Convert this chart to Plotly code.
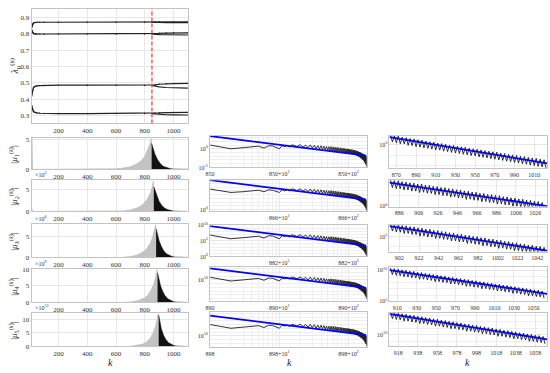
import plotly.graph_objects as go

W, H = 550, 373
OFF = 0
FONT = "Liberation Serif"

# ---------------- top panel data ----------------
lam_k = [14, 17, 20, 25, 30, 40, 50, 70, 100, 200, 400, 600, 800, 850, 870, 900, 950, 1000, 1100]
lam_1 = [0.84, 0.852, 0.86, 0.866, 0.869, 0.871, 0.872, 0.872, 0.872, 0.872, 0.872, 0.872, 0.872, 0.872, 0.873, 0.874, 0.874, 0.874, 0.874]
lam_2 = [0.825, 0.815, 0.81, 0.805, 0.802, 0.80, 0.80, 0.80, 0.80, 0.80, 0.80, 0.80, 0.80, 0.80, 0.802, 0.804, 0.806, 0.807, 0.807]
lam_3 = [0.42, 0.44, 0.455, 0.468, 0.475, 0.48, 0.482, 0.484, 0.485, 0.486, 0.486, 0.486, 0.485, 0.485, 0.488, 0.492, 0.495, 0.496, 0.497]
lam_4 = [0.36, 0.345, 0.335, 0.327, 0.322, 0.318, 0.316, 0.314, 0.313, 0.312, 0.312, 0.312, 0.312, 0.312, 0.314, 0.316, 0.318, 0.319, 0.319]
split_k = [850, 870, 900, 950, 1000, 1100]
lam_1b = [0.872, 0.871, 0.870, 0.870, 0.870, 0.870]
lam_2b = [0.80, 0.798, 0.796, 0.795, 0.794, 0.794]
lam_3b = [0.485, 0.481, 0.476, 0.472, 0.470, 0.468]
lam_4b = [0.312, 0.310, 0.307, 0.305, 0.304, 0.303]
red_k = 850

# ---------------- left column data (|mu_i|) ----------------
g1_k = [14, 15, 17, 19, 22, 500, 550, 600, 650, 700, 750, 780, 800, 820, 835, 845, 848, 856]
g1_v = [0, 5.3, 3.0, 0.6, 0, 0.02, 0.05, 0.1, 0.22, 0.45, 1.0, 1.6, 2.2, 3.2, 4.2, 5.2, 3.8, 0]
b1_k = [848, 855, 870, 890, 910, 930, 950, 980, 1000, 1050, 1100]
b1_v = [4.4, 3.8, 2.6, 1.6, 0.9, 0.5, 0.3, 0.1, 0.05, 0.01, 0]
g2_k = [14, 15, 17, 20, 600, 650, 700, 750, 780, 800, 820, 840, 852, 860, 863, 870]
g2_v = [0, 0.6, 0.3, 0, 0.05, 0.12, 0.35, 0.85, 1.4, 2.0, 2.9, 4.2, 5.6, 6.8, 4.5, 0]
b2_k = [863, 870, 885, 900, 920, 940, 960, 980, 1000, 1050, 1100]
b2_v = [5.5, 4.8, 3.3, 2.2, 1.3, 0.7, 0.4, 0.2, 0.08, 0.02, 0]
g3_k = [650, 700, 750, 780, 800, 820, 840, 855, 868, 876, 879, 885]
g3_v = [0.05, 0.2, 0.6, 1.1, 1.6, 2.5, 3.6, 5.0, 6.5, 8.0, 5.0, 0]
b3_k = [879, 885, 900, 915, 930, 950, 970, 990, 1010, 1050, 1100]
b3_v = [7.0, 6.0, 4.0, 2.7, 1.7, 0.9, 0.45, 0.2, 0.08, 0.02, 0]
g4_k = [650, 700, 750, 780, 800, 820, 840, 860, 875, 886, 889, 895]
g4_v = [0.03, 0.15, 0.5, 0.9, 1.4, 2.2, 3.4, 5.3, 7.5, 10.0, 6.0, 0]
b4_k = [889, 895, 910, 925, 940, 960, 980, 1000, 1020, 1060, 1100]
b4_v = [9.0, 7.5, 5.0, 3.3, 2.1, 1.1, 0.55, 0.25, 0.1, 0.02, 0]
g5_k = [700, 750, 780, 800, 820, 840, 860, 875, 887, 894, 897, 903]
g5_v = [0.1, 0.4, 0.8, 1.2, 2.0, 3.2, 5.2, 7.4, 10.0, 12.0, 7.0, 0]
b5_k = [897, 903, 915, 930, 945, 965, 985, 1005, 1025, 1060, 1100]
b5_v = [11.5, 9.5, 6.5, 4.2, 2.7, 1.4, 0.7, 0.3, 0.12, 0.03, 0]
left_ymax = [5.3, 7.0, 8.1, 10.1, 12.2]
left_exp = ["", "×10<sup>3</sup>", "×10<sup>6</sup>", "×10<sup>9</sup>", "×10<sup>12</sup>"]

# ---------------- middle column data (log10 values, offset k - start) ----------------
mid_start = [850, 866, 882, 890, 898]
mid_head_x = list(range(1, 16))
mid_peak_x = list(range(16, 181, 4))
mid_trough_x = list(range(18, 183, 4))

mh1 = [1.0, 0.0, 0.3, 0.5, 0.7, 0.2, 0.8, 0.75, 0.4, 0.0, 0.8, 0.6, 0.9, 0.5, 1.0]
mp1 = [1.0, 1.1, 1.0, 1.05, 0.95, 0.85, 0.8, 0.7, 0.6, 0.55, 0.6, 0.5, 0.45, 0.35, 0.3, 0.25, 0.15, 0.1, 0.05, 0.0,
       -0.05, -0.1, -0.15, -0.2, -0.25, -0.3, -0.35, -0.45, -0.5, -0.6, -0.7, -0.8, -0.9, -1.0, -1.1, -1.25, -1.35, -1.45, -1.55, -1.7, -1.85, -2.0]
mt1 = [0.6, 0.45, 0.3, 0.2, 0.05, -0.05, -0.15, -0.3, -0.4, -0.55, -0.7, -0.8, -0.85, -0.9, -0.95, -1.0, -1.05, -1.1, -1.15, -1.2,
       -1.25, -1.3, -1.35, -1.4, -1.45, -1.5, -1.6, -1.7, -1.8, -1.9, -2.0, -2.2, -2.3, -2.5, -2.6, -2.8, -3.0, -3.2, -3.5, -3.8, -4.2, -4.8]
mb1 = [3.4, -1.85]

mh2 = [5.5, 4.6, 4.8, 5.1, 5.2, 4.8, 5.3, 5.2, 4.9, 4.6, 5.3, 5.0, 5.4, 5.0, 5.5]
mp2 = [5.5, 5.6, 5.5, 5.55, 5.45, 5.35, 5.3, 5.2, 5.1, 5.05, 5.1, 5.0, 4.95, 4.85, 4.8, 4.75, 4.65, 4.6, 4.55, 4.5,
       4.45, 4.4, 4.35, 4.3, 4.25, 4.2, 4.15, 4.05, 4.0, 3.9, 3.8, 3.7, 3.6, 3.5, 3.4, 3.25, 3.15, 3.05, 2.95, 2.8, 2.65, 2.5]
mt2 = [5.1, 4.95, 4.8, 4.7, 4.55, 4.45, 4.35, 4.2, 4.1, 3.95, 3.8, 3.7, 3.65, 3.6, 3.55, 3.5, 3.45, 3.4, 3.35, 3.3,
       3.25, 3.2, 3.15, 3.1, 3.05, 3.0, 2.9, 2.8, 2.7, 2.6, 2.5, 2.3, 2.2, 2.0, 1.9, 1.7, 1.5, 1.3, 1.0, 0.7, 0.3, -0.3]
mb2 = [7.9, 2.65]

mh3 = [6.84, 5.65, 6.0, 6.25, 6.48, 5.89, 6.6, 6.54, 6.13, 5.65, 6.6, 6.36, 6.72, 6.25, 6.84]
mp3 = [6.84, 6.96, 6.84, 6.9, 6.78, 6.66, 6.6, 6.48, 6.36, 6.3, 6.36, 6.25, 6.19, 6.07, 6.0, 5.95, 5.83, 5.77, 5.71, 5.65,
       5.59, 5.53, 5.47, 5.41, 5.35, 5.29, 5.23, 5.11, 5.05, 4.94, 4.82, 4.7, 4.58, 4.46, 4.34, 4.16, 4.04, 3.92, 3.8, 3.63, 3.45, 3.27]
mt3 = [6.36, 6.19, 6.0, 5.89, 5.71, 5.59, 5.47, 5.29, 5.17, 4.99, 4.82, 4.7, 4.64, 4.58, 4.52, 4.46, 4.4, 4.34, 4.28, 4.22,
       4.16, 4.1, 4.04, 3.98, 3.92, 3.87, 3.75, 3.63, 3.51, 3.39, 3.27, 3.03, 2.91, 2.68, 2.56, 2.32, 2.08, 1.84, 1.49, 1.13, 0.65, -0.06]
mb3 = [9.7, 3.45]

mh4 = [10.7, 9.7, 10.0, 10.2, 10.4, 9.9, 10.5, 10.45, 10.1, 9.7, 10.5, 10.3, 10.6, 10.2, 10.7]
mp4 = [10.7, 10.8, 10.7, 10.75, 10.65, 10.55, 10.5, 10.4, 10.3, 10.25, 10.3, 10.2, 10.15, 10.05, 10.0, 9.95, 9.85, 9.8, 9.75, 9.7,
       9.65, 9.6, 9.55, 9.5, 9.45, 9.4, 9.35, 9.25, 9.2, 9.1, 9.0, 8.9, 8.8, 8.7, 8.6, 8.45, 8.35, 8.25, 8.15, 8.0, 7.85, 7.7]
mt4 = [10.3, 10.15, 10.0, 9.9, 9.75, 9.65, 9.55, 9.4, 9.3, 9.15, 9.0, 8.9, 8.85, 8.8, 8.75, 8.7, 8.65, 8.6, 8.55, 8.5,
       8.45, 8.4, 8.35, 8.3, 8.25, 8.2, 8.1, 8.0, 7.9, 7.8, 7.7, 7.5, 7.4, 7.2, 7.1, 6.9, 6.7, 6.5, 6.2, 5.9, 5.5, 4.9]
mb4 = [13.1, 7.85]

mh5 = [13.0, 12.0, 12.3, 12.5, 12.7, 12.2, 12.8, 12.75, 12.4, 12.0, 12.8, 12.6, 12.9, 12.5, 13.0]
mp5 = [13.0, 13.1, 13.0, 13.05, 12.95, 12.85, 12.8, 12.7, 12.6, 12.55, 12.6, 12.5, 12.45, 12.35, 12.3, 12.25, 12.15, 12.1, 12.05, 12.0,
       11.95, 11.9, 11.85, 11.8, 11.75, 11.7, 11.65, 11.55, 11.5, 11.4, 11.3, 11.2, 11.1, 11.0, 10.9, 10.75, 10.65, 10.55, 10.45, 10.3, 10.15, 10.0]
mt5 = [12.6, 12.45, 12.3, 12.2, 12.05, 11.95, 11.85, 11.7, 11.6, 11.45, 11.3, 11.2, 11.15, 11.1, 11.05, 11.0, 10.95, 10.9, 10.85, 10.8,
       10.75, 10.7, 10.65, 10.6, 10.55, 10.5, 10.4, 10.3, 10.2, 10.1, 10.0, 9.8, 9.7, 9.5, 9.4, 9.2, 9.0, 8.8, 8.5, 8.2, 7.8, 7.2]
mb5 = [15.4, 10.15]
mid_blue_x = [1, 180]
mid_yrange = [[-5, 3.4], [-0.5, 7.9], [0, 10], [4.2, 13.4], [6.85, 16.3]]
mid_ytick = [[-5, 0], [0], [0, 5, 10], [10], [10]]

# ---------------- right column data (log10 values) ----------------
right_start = [863, 876, 892, 902, 909]
right_end = [1023, 1038, 1052, 1064, 1070]
right_xticks_1 = [870, 890, 910, 930, 950, 970, 990, 1010]
right_xticks_2 = [886, 906, 926, 946, 966, 986, 1006, 1026]
right_xticks_3 = [902, 922, 942, 962, 982, 1002, 1022, 1042]
right_xticks_4 = [910, 930, 950, 970, 990, 1010, 1030, 1050]
right_xticks_5 = [918, 938, 958, 978, 998, 1018, 1038, 1058]

rp1 = [0.95, 0.88, 0.86, 0.75, 0.70, 0.62, 0.58, 0.50, 0.45, 0.36, 0.30, 0.25, 0.17, 0.12, 0.05, -0.02, -0.06, -0.14, -0.20, -0.25,
       -0.32, -0.38, -0.43, -0.50, -0.56, -0.62, -0.68, -0.72, -0.80, -0.85, -0.92, -0.98, -1.03, -1.10, -1.15, -1.22, -1.28, -1.32, -1.40, -1.46]
rt1 = [0.28, 0.20, 0.10, 0.08, -0.05, -0.08, -0.18, -0.22, -0.30, -0.35, -0.42, -0.50, -0.52, -0.62, -0.66, -0.74, -0.80, -0.85, -0.92, -0.98,
       -1.05, -1.08, -1.18, -1.22, -1.28, -1.35, -1.40, -1.48, -1.52, -1.60, -1.65, -1.72, -1.78, -1.85, -1.90, -1.98, -2.02, -2.10, -2.15, -2.25]
rb1 = [0.75, -1.8]
rp2 = [2.59, 2.51, 2.49, 2.40, 2.37, 2.29, 2.26, 2.17, 2.15, 2.06, 2.03, 1.95, 1.92, 1.83, 1.81, 1.72, 1.69, 1.60, 1.58, 1.49,
       1.46, 1.38, 1.35, 1.26, 1.24, 1.15, 1.12, 1.04, 1.01, 0.92, 0.90, 0.81, 0.78, 0.70, 0.67, 0.58, 0.55, 0.47, 0.44, 0.35]
rt2 = [1.81, 1.72, 1.70, 1.58, 1.58, 1.47, 1.47, 1.33, 1.36, 1.26, 1.24, 1.12, 1.13, 1.03, 1.01, 0.88, 0.90, 0.80, 0.79, 0.65,
       0.67, 0.58, 0.56, 0.42, 0.45, 0.35, 0.33, 0.20, 0.22, 0.12, 0.11, -0.03, -0.01, -0.10, -0.12, -0.26, -0.23, -0.33, -0.35, -0.50]
rb2 = [2.3, 0.0]
rp3 = [6.38, 6.30, 6.27, 6.17, 6.14, 6.05, 6.02, 5.92, 5.89, 5.80, 5.77, 5.67, 5.64, 5.55, 5.52, 5.42, 5.39, 5.30, 5.27, 5.17,
       5.14, 5.05, 5.02, 4.92, 4.89, 4.80, 4.77, 4.67, 4.64, 4.55, 4.52, 4.42, 4.39, 4.30, 4.27, 4.17, 4.14, 4.05, 4.02, 3.92]
rt3 = [5.60, 5.50, 5.48, 5.35, 5.35, 5.25, 5.23, 5.08, 5.10, 5.00, 4.98, 4.84, 4.85, 4.75, 4.73, 4.58, 4.60, 4.50, 4.48, 4.33,
       4.35, 4.25, 4.23, 4.08, 4.10, 4.00, 3.98, 3.83, 3.85, 3.75, 3.73, 3.58, 3.60, 3.50, 3.48, 3.33, 3.35, 3.25, 3.23, 3.05]
rb3 = [6.1, 3.6]
rp4 = [10.33, 10.22, 10.15, 10.03, 9.96, 9.84, 9.78, 9.65, 9.59, 9.47, 9.40, 9.28, 9.21, 9.09, 9.03, 8.90, 8.84, 8.72, 8.65, 8.53,
       8.46, 8.34, 8.28, 8.15, 8.09, 7.97, 7.90, 7.78, 7.71, 7.59, 7.53, 7.40, 7.34, 7.21, 7.15, 7.03, 6.96, 6.84, 6.78, 6.65]
rt4 = [9.28, 9.15, 9.09, 8.92, 8.90, 8.77, 8.72, 8.52, 8.53, 8.40, 8.34, 8.15, 8.15, 8.02, 7.97, 7.77, 7.78, 7.65, 7.59, 7.40,
       7.40, 7.27, 7.22, 7.02, 7.03, 6.90, 6.84, 6.65, 6.65, 6.52, 6.47, 6.27, 6.28, 6.14, 6.09, 5.90, 5.90, 5.77, 5.72, 5.50]
rb4 = [10.0, 6.2]
rp5 = [13.53, 13.41, 13.35, 13.22, 13.15, 13.03, 12.96, 12.83, 12.76, 12.64, 12.57, 12.44, 12.38, 12.25, 12.18, 12.06, 11.99, 11.86, 11.80, 11.67,
       11.60, 11.48, 11.41, 11.28, 11.21, 11.09, 11.02, 10.89, 10.83, 10.70, 10.63, 10.51, 10.44, 10.31, 10.25, 10.12, 10.05, 9.93, 9.86, 9.73]
rt5 = [12.48, 12.34, 12.29, 12.10, 12.09, 11.96, 11.90, 11.70, 11.70, 11.57, 11.51, 11.31, 11.32, 11.18, 11.12, 10.93, 10.93, 10.79, 10.74, 10.54,
       10.54, 10.41, 10.35, 10.15, 10.15, 10.02, 9.96, 9.76, 9.77, 9.63, 9.57, 9.38, 9.38, 9.24, 9.19, 8.99, 8.99, 8.86, 8.80, 8.60]
rb5 = [13.2, 9.3]
right_yrange = [[-2.3, 0.85], [-0.05, 2.55], [3.5, 6.2], [4.98, 10.45], [8.2, 13.3]]
right_ytick = [[0], [0], [5], [5, 10], [10]]

# ---------------- layout geometry (window pixels) ----------------
TOP = (27, 185, 5, 122)
LEFT_X = (27, 185)
MID_X = (207, 365)
RIGHT_X = (388, 547)
LEFT_ROWS = [(137, 169), (180, 212), (225, 259), (271, 305), (316, 350)]
MID_ROWS = [(135, 167), (180, 212), (226, 258), (269, 304), (315, 351)]
RIGHT_ROWS = [(135, 168), (180, 207), (226, 253), (269, 304), (316, 350)]

fig = go.Figure()
GRID = "#e8e8e8"
FRAME = "#c4c4c4"


def px_x(p):
    return (p - OFF) / W


def px_y(p):
    return 1 - (p - OFF) / H


def xd(l, r):
    return [px_x(l), px_x(r)]


def yd(t, b):
    return [px_y(b), px_y(t)]


def ax_names(n):
    return ("xaxis" if n == 1 else f"xaxis{n}", "yaxis" if n == 1 else f"yaxis{n}",
            "x" if n == 1 else f"x{n}", "y" if n == 1 else f"y{n}")


def base(size):
    return dict(showline=True, linecolor=FRAME, linewidth=1, mirror=True, showgrid=True,
                gridcolor=GRID, gridwidth=1, zeroline=False, ticks="",
                tickfont=dict(family=FONT, size=size, color="#333333"))


layout = {}


def set_axes(n, xpx, ypx, xcfg, ycfg):
    xa, ya, xr, yr = ax_names(n)
    xc = dict(xcfg); yc = dict(ycfg)
    xc.update(domain=xd(*xpx), anchor=yr)
    yc.update(domain=yd(*ypx), anchor=xr)
    layout[xa] = xc
    layout[ya] = yc
    return xr, yr


def sup(e):
    return "10<sup>%d</sup>" % e


# ---- top panel ----
xr, yr = set_axes(1, TOP[:2], TOP[2:],
                  dict(base(7), range=[14, 1103], tickvals=[200, 400, 600, 800, 1000]),
                  dict(base(7), range=[0.252, 0.954], tickvals=[0.3, 0.4, 0.5, 0.6, 0.7, 0.8, 0.9],
                       ticktext=["0.3", "0.4", "0.5", "0.6", "0.7", "0.8", "0.9"]))
for ys in [lam_1, lam_2, lam_3, lam_4]:
    fig.add_trace(go.Scatter(x=lam_k, y=ys, mode="lines+markers", line=dict(color="#222222", width=1.2),
                             marker=dict(size=1.5, color="#222222"), xaxis=xr, yaxis=yr))
for ys in [lam_1b, lam_2b, lam_3b, lam_4b]:
    fig.add_trace(go.Scatter(x=split_k, y=ys, mode="lines", line=dict(color="#222222", width=1.1),
                             xaxis=xr, yaxis=yr))
shapes = [dict(type="line", xref="x", yref="y domain", x0=red_k, x1=red_k, y0=0, y1=1,
               line=dict(color="#ff4d4d", width=1.4, dash="4px,2px"))]

# ---- left column ----
grays = [(g1_k, g1_v), (g2_k, g2_v), (g3_k, g3_v), (g4_k, g4_v), (g5_k, g5_v)]
blacks = [(b1_k, b1_v), (b2_k, b2_v), (b3_k, b3_v), (b4_k, b4_v), (b5_k, b5_v)]
annotations = []
for i in range(5):
    n = 2 + i
    yt = [0, 5] if left_ymax[i] < 10 else [0, 5, 10]
    xr, yr = set_axes(n, LEFT_X, LEFT_ROWS[i],
                      dict(base(7), range=[14, 1103], tickvals=[200, 400, 600, 800, 1000]),
                      dict(base(7), range=[0, left_ymax[i]], tickvals=yt))
    gk, gv = grays[i]
    bk, bv = blacks[i]
    fig.add_trace(go.Scatter(x=gk, y=gv, mode="lines", fill="tozeroy", fillcolor="#c3c3c3",
                             line=dict(color="#b8b8b8", width=0.6), xaxis=xr, yaxis=yr))
    fig.add_trace(go.Scatter(x=bk, y=bv, mode="lines", fill="tozeroy", fillcolor="#111111",
                             line=dict(color="#111111", width=0.6), xaxis=xr, yaxis=yr))
    t, b = LEFT_ROWS[i]
    annotations.append(dict(text="|<i>μ</i><sub>%d</sub><sup>(<i>k</i>)</sup>|" % (i + 1), x=px_x(9), y=px_y((t + b) / 2),
                            xref="paper", yref="paper", textangle=-90, showarrow=False,
                            font=dict(family=FONT, size=9, color="#222222"), xanchor="center", yanchor="middle"))
    if left_exp[i]:
        annotations.append(dict(text=left_exp[i], x=px_x(28), y=px_y(t - 6), xref="paper", yref="paper",
                                showarrow=False, font=dict(family=FONT, size=6, color="#333333"),
                                xanchor="left", yanchor="middle"))

# ---- middle column ----
mids = [(mh1, mp1, mt1, mb1), (mh2, mp2, mt2, mb2), (mh3, mp3, mt3, mb3), (mh4, mp4, mt4, mb4), (mh5, mp5, mt5, mb5)]
minor_x = [2, 3, 4, 5, 6, 7, 8, 9, 20, 30, 40, 50, 60, 70, 80, 90, 200]
for i in range(5):
    n = 7 + i
    head, pk, tr, bl = mids[i]
    s = mid_start[i]
    ttext = [str(s) if i not in (1, 2) else "", "%d+10<sup>1</sup>" % s, "%d+10<sup>2</sup>" % s]
    yr0, yr1 = mid_yrange[i]
    xr, yr = set_axes(n, MID_X, MID_ROWS[i],
                      dict(base(6), type="log", range=[0, 2.262], tickvals=[1, 10, 100], ticktext=ttext,
                           minor=dict(tickvals=minor_x, showgrid=True, gridcolor="#efefef")),
                      dict(base(6), type="log", range=[yr0, yr1],
                           tickvals=[10 ** e for e in mid_ytick[i]], ticktext=[sup(e) for e in mid_ytick[i]],
                           minor=dict(tickvals=[10 ** e for e in range(-6, 18)], showgrid=True, gridcolor="#efefef")))
    xs = list(mid_head_x)
    ys = list(head)
    for a, bb, c, d in zip(mid_peak_x, pk, mid_trough_x, tr):
        xs += [a, c]
        ys += [bb, d]
    fig.add_trace(go.Scatter(x=xs, y=[10 ** v for v in ys], mode="lines",
                             line=dict(color="#1e1e1e", width=0.9), xaxis=xr, yaxis=yr))
    fig.add_trace(go.Scatter(x=mid_blue_x, y=[10 ** v for v in bl], mode="lines",
                             line=dict(color="#0000ff", width=1.8), xaxis=xr, yaxis=yr))

# ---- right column ----
rights = [(rp1, rt1, rb1), (rp2, rt2, rb2), (rp3, rt3, rb3), (rp4, rt4, rb4), (rp5, rt5, rb5)]
rticks = [right_xticks_1, right_xticks_2, right_xticks_3, right_xticks_4, right_xticks_5]
for i in range(5):
    n = 12 + i
    pk, tr, bl = rights[i]
    s, e = right_start[i], right_end[i]
    xr, yr = set_axes(n, RIGHT_X, RIGHT_ROWS[i],
                      dict(base(6), range=[s, e], tickvals=rticks[i]),
                      dict(base(6), type="log", range=right_yrange[i],
                           tickvals=[10 ** v for v in right_ytick[i]], ticktext=[sup(v) for v in right_ytick[i]],
                           minor=dict(tickvals=[10 ** v for v in range(-4, 16)], showgrid=True, gridcolor="#efefef")))
    xs, ys = [], []
    for j, (a, c) in enumerate(zip(pk, tr)):
        xs += [s + 1 + 4 * j, s + 3 + 4 * j]
        ys += [a, c]
    fig.add_trace(go.Scatter(x=xs, y=[10 ** v for v in ys], mode="lines",
                             line=dict(color="#1a1a1a", width=0.9), xaxis=xr, yaxis=yr))
    fig.add_trace(go.Scatter(x=[s, e], y=[10 ** v for v in bl], mode="lines",
                             line=dict(color="#0000ff", width=1.8), xaxis=xr, yaxis=yr))

# ---- labels ----
annotations.append(dict(text="<i>λ</i><sub>0</sub><sup>(<i>k</i>)</sup>", x=px_x(10), y=px_y(63), xref="paper", yref="paper",
                        textangle=-90, showarrow=False, font=dict(family=FONT, size=10, color="#222222"),
                        xanchor="center", yanchor="middle"))
for kx in [106, 287, 467]:
    annotations.append(dict(text="<i>k</i>", x=px_x(kx), y=px_y(366), xref="paper", yref="paper", showarrow=False,
                            font=dict(family=FONT, size=10, color="#222222"), xanchor="center", yanchor="middle"))

fig.update_layout(**layout)
fig.update_layout(width=W, height=H, margin=dict(l=0, r=0, t=0, b=0), showlegend=False,
                  paper_bgcolor="white", plot_bgcolor="white", shapes=shapes, annotations=annotations,
                  hovermode=False)
fig.write_html("out.html", config={"displayModeBar": False, "staticPlot": True},
               post_script="document.body.style.margin='0px';document.body.style.overflow='hidden';")
